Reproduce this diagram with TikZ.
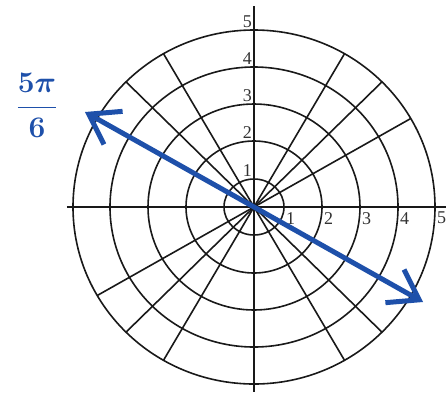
\documentclass[tikz,border=0pt]{standalone}
\usepackage{fontspec}
\setmainfont{Liberation Serif}
\usetikzlibrary{arrows.meta}
\definecolor{pen}{RGB}{30,80,170}
\begin{document}
\begin{tikzpicture}[x=1pt,y=1pt,
  grid/.style={line width=1.6pt,black!90},
  lab/.style={font=\fontsize{18}{18}\selectfont, inner sep=0pt, text=black!80},
  fraclab/.style={text=pen, font=\fontsize{40}{44}\selectfont\boldmath, scale=1.2, transform shape},
  barb/.tip={Straight Barb[length=28pt,width=38pt]}]
\useasboundingbox (-254,-185) rectangle (192,207);
\fill[white] (-254,-185) rectangle (192,207);
\foreach \rx/\ry [count=\i] in {30/28,68/66,106/103,144/140,181/177} {
  \draw[grid] (0,0) ellipse [x radius=\rx, y radius=\ry];
  \node[lab, anchor=south east] (t\i) at (-2,\ry+2) {\i};
  \node[lab, anchor=north west] (r\i) at (\rx+2,-5) {\i};
}
\foreach \a in {30,45,60,120,135,150,210,225,240,300,315,330}
  \draw[grid] (0,0) -- ({181*cos(\a)},{177*sin(\a)});
\coordinate (xl) at (-187,0);
\coordinate (xr) at (192,0);
\coordinate (yt) at (0,201);
\coordinate (yb) at (0,-185);
\draw[grid] (xl) -- (xr);
\draw[grid] (yt) -- (yb);
\coordinate (A) at (-169,95);
\coordinate (B) at (169,-95);
\draw[pen, line width=5pt, barb-barb] (A) -- (B);
\node[fraclab] (frac) at (-217,102) {$\displaystyle\frac{5\pi}{6}$};
\end{tikzpicture}
\end{document}
